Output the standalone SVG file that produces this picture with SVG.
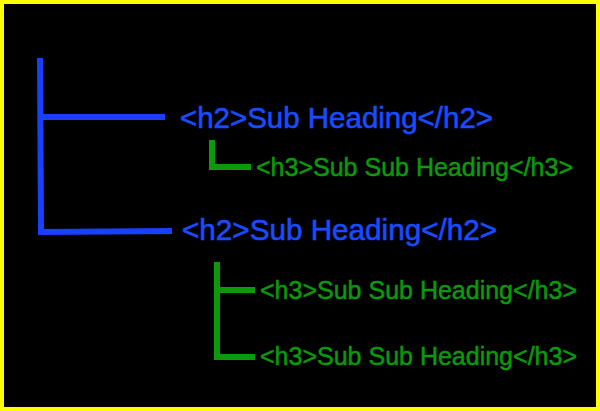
<svg xmlns="http://www.w3.org/2000/svg" width="600" height="411" viewBox="0 0 600 411">
<style>
.b{stroke:#1a40ff;stroke-width:6;fill:none}
.g{stroke:#0a9a0a;stroke-width:6;fill:none}
.h2{font-family:"Liberation Sans",Arial,sans-serif;font-size:29px;fill:#1a4cff;stroke:#1a4cff;stroke-width:0.6}
.h3{font-family:"Liberation Sans",Arial,sans-serif;font-size:25px;fill:#0a9a0a;stroke:#0a9a0a;stroke-width:0.5}
</style>
<rect x="2" y="2" width="596" height="407" fill="#000" stroke="#ffff00" stroke-width="4"/>
<g id="connectors">
<path class="b" d="M40 58 L41 232 L172 231 M41 117 L165 117"/>
<path class="g" d="M212 140 L212 167 L251 167"/>
<path class="g" d="M217 262 L217 357 L255 357 M217 290 L255 290"/>
</g>
<g id="n1"><text class="h2" x="180" y="128" textLength="313" lengthAdjust="spacingAndGlyphs">&lt;h2&gt;Sub Heading&lt;/h2&gt;</text></g>
<g id="n2"><text class="h3" x="256" y="176" textLength="317" lengthAdjust="spacingAndGlyphs">&lt;h3&gt;Sub Sub Heading&lt;/h3&gt;</text></g>
<g id="n3"><text class="h2" x="182" y="240" textLength="315" lengthAdjust="spacingAndGlyphs">&lt;h2&gt;Sub Heading&lt;/h2&gt;</text></g>
<g id="n4"><text class="h3" x="260" y="299" textLength="317" lengthAdjust="spacingAndGlyphs">&lt;h3&gt;Sub Sub Heading&lt;/h3&gt;</text></g>
<g id="n5"><text class="h3" x="260" y="365" textLength="317" lengthAdjust="spacingAndGlyphs">&lt;h3&gt;Sub Sub Heading&lt;/h3&gt;</text></g>
</svg>
